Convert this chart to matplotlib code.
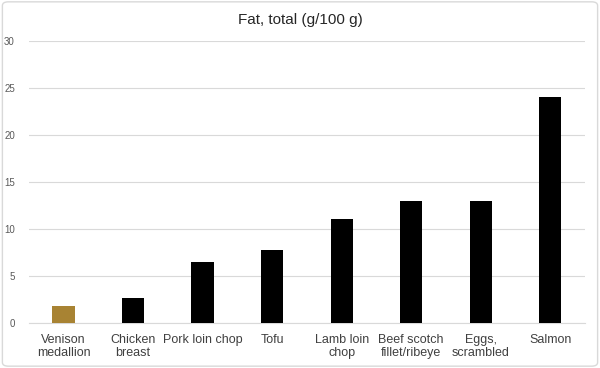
"""
bar chart: total fat content (g/100 g) by protein source
"""

import matplotlib
matplotlib.use('Agg')
import matplotlib.pyplot as plt
import matplotlib as mpl
from matplotlib.patches import FancyBboxPatch

#%% global plot settings

plt.rc('font', **{'family': 'sans-serif', 'sans-serif': ['Liberation Sans', 'DejaVu Sans'], 'size': 9})

#%% data

foods = ['Venison\nmedallion', 'Chicken\nbreast', 'Pork loin chop', 'Tofu',
         'Lamb loin\nchop', 'Beef scotch\nfillet/ribeye', 'Eggs,\nscrambled', 'Salmon']
fat = [1.8, 2.7, 6.5, 7.8, 11.1, 13.0, 13.0, 24.0]
yticks = [0, 5, 10, 15, 20, 25, 30]

#%% plot

fig = plt.figure(figsize=(6, 3.68), dpi=100)
ax = fig.add_axes([0.048, 0.122, 0.927, 0.767])

colors = ['#A88333'] + ['#000000'] * (len(foods) - 1)
x = range(len(foods))
ax.bar(x, fat, width=0.32, color=colors, zorder=3)

# axes
ax.set_xlim(-0.5, len(foods) - 0.5)
ax.set_ylim(0, 30)
ax.set_yticks(yticks)
ax.set_yticklabels([str(t) for t in yticks], fontsize=7, color='#595959')
ax.set_xticks(list(x))
ax.set_xticklabels(foods, fontsize=9, color='#404040', linespacing=1.1)
ax.tick_params(axis='both', length=0)
ax.tick_params(axis='y', pad=10)
ax.tick_params(axis='x', pad=8)
ax.grid(axis='y', color='#D9D9D9', linewidth=0.8, zorder=0)
for s in ['top', 'right', 'left']:
    ax.spines[s].set_visible(False)
ax.spines['bottom'].set_color('#D9D9D9')

fig.text(0.5, 0.945, 'Fat, total (g/100 g)', ha='center', va='center',
         fontsize=11, color='#262626')

# outer border
border = FancyBboxPatch((0.004, 0.005), 0.992, 0.99, boxstyle='round,pad=0,rounding_size=0.01',
                        transform=fig.transFigure, facecolor='none',
                        edgecolor='#D9D9D9', linewidth=1)
fig.patches.append(border)

fig.savefig('out.png', dpi=100)
